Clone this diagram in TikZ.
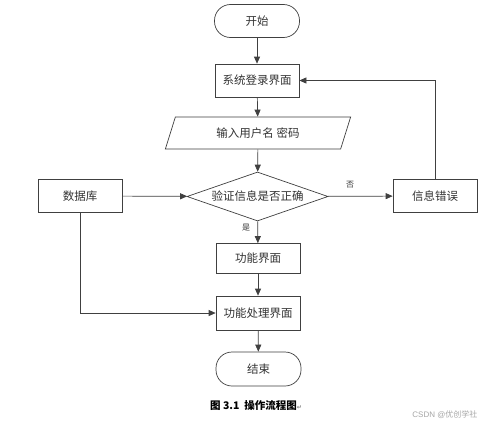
\documentclass[tikz,border=0pt]{standalone}
\usepackage{fontspec}
\newfontfamily\cjk{Noto Sans CJK SC}
\newfontfamily\dejavu{DejaVu Sans}
\usetikzlibrary{arrows.meta,shapes.geometric,positioning}
\begin{document}
\begin{tikzpicture}[x=1pt,y=-1pt,
  every node/.style={font=\cjk\fontsize{11.5}{13}\selectfont, text=black!80},
  line/.style={draw=black!75, line width=0.7pt},
  arr/.style={line, -{Triangle[length=7pt,width=6pt]}},
  procbox/.style={line, rectangle, minimum width=84pt, minimum height=33pt, inner sep=0pt},
  term/.style={line, rectangle, rounded corners=16pt, minimum width=85pt, minimum height=33pt, inner sep=0pt},
  io/.style={line, trapezium, trapezium left angle=65, trapezium right angle=115, minimum width=186pt, minimum height=32pt, inner sep=0pt, trapezium stretches=true},
  decision/.style={line, diamond, aspect=2.9, minimum width=141pt, minimum height=49pt, inner sep=0pt},
  lbl/.style={font=\cjk\fontsize{8}{9}\selectfont}
]
\useasboundingbox (0,0) rectangle (497,428);
\fill[white] (0,0) rectangle (497,428);
\node[term] (start) at (257,21) {开始};
\node[procbox] (login) at (257,80.5) {系统登录界面};
\node[io] (input) at (258,133) {输入用户名 密码};
\node[decision] (check) at (257.5,196.5) {验证信息是否正确};
\node[procbox] (db) at (80,196) {数据库};
\node[procbox] (err) at (435,196) {信息错误};
\node[procbox, minimum height=30pt] (func) at (258,258.5) {功能界面};
\node[procbox, minimum height=34pt] (proc) at (258,313) {功能处理界面};
\node[term, minimum height=34pt] (end) at (258.5,369) {结束};
\node[lbl] (no) at (350,185) {否};
\node[lbl] (yes) at (246,228) {是};
\node[font=\cjk\bfseries\fontsize{10.5}{12}\selectfont, text=black] (cap) at (256,405) {图 3.1\ \ 操作流程图{\dejavu\fontsize{6}{7}\selectfont\color{black!50}↵}};
\node[font=\fontspec{Liberation Sans}\fontsize{8}{9}\selectfont, text=black!35, anchor=east] (wm) at (481,415) {CSDN @{\cjk 优创学社}};
\draw[arr] (start) -- (login);
\draw[arr] (login) -- (input);
\draw[arr] (input) -- (check);
\draw[arr] (db) -- (check);
\draw[arr] (check) -- (err);
\draw[arr] (check) -- (func);
\draw[arr] (func) -- (proc);
\draw[arr] (proc) -- (end);
\draw[arr] (db.south) |- (proc.west);
\draw[arr] (err.north) |- (login.east);
\end{tikzpicture}
\end{document}
